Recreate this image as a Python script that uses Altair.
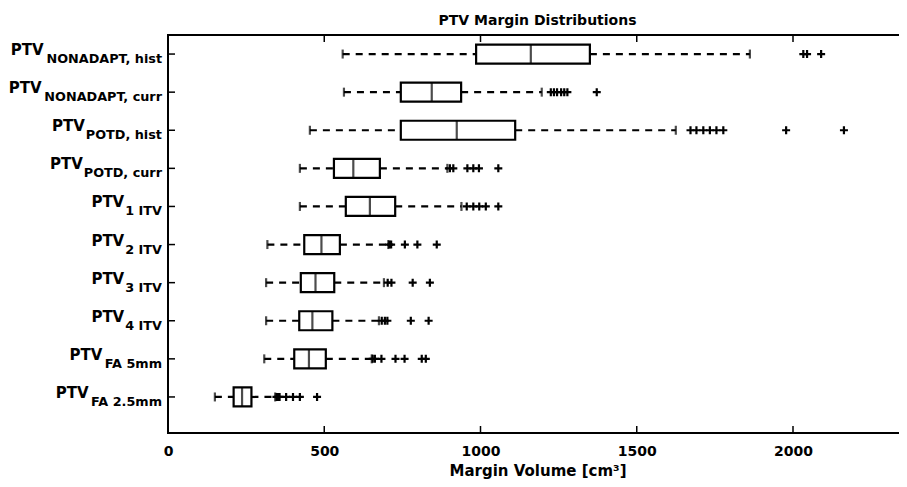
import altair as alt
import pandas as pd

# ---- data ----
categories = ["NONADAPT, hist", "NONADAPT, curr", "POTD, hist", "POTD, curr", "1 ITV",
              "2 ITV", "3 ITV", "4 ITV", "FA 5mm", "FA 2.5mm"]
whisker_low = [559, 563, 454, 422, 422, 318, 314, 314, 308, 150]
q1 = [986, 745, 745, 531, 569, 436, 425, 420, 404, 210]
median = [1161, 844, 924, 593, 646, 491, 472, 462, 451, 237]
q3 = [1350, 938, 1111, 678, 727, 550, 532, 526, 505, 267]
whisker_high = [1862, 1196, 1625, 894, 939, 705, 691, 675, 652, 343]
outliers = [
    [2033, 2045, 2090],
    [1225, 1235, 1245, 1258, 1268, 1278, 1372],
    [1672, 1691, 1713, 1734, 1755, 1777, 1978, 2163],
    [902, 913, 958, 977, 995, 1057],
    [956, 977, 996, 1017, 1057],
    [708, 714, 758, 798, 860],
    [703, 715, 783, 838],
    [684, 694, 702, 777, 834],
    [655, 662, 683, 728, 757, 812, 825],
    [347, 352, 357, 378, 400, 422, 477],
]
x_ticks = [0, 500, 1000, 1500, 2000]

FONT = "DejaVu Sans"
PTV_SIZE = 15
SUB_SIZE = 12.8
# DejaVu Sans Bold advance widths (em) for label layout
ADV = {" ": .348, ",": .381, ".": .381, "A": .774, "D": .830, "F": .683, "I": .372,
       "N": .837, "O": .850, "P": .732, "T": .682, "V": .774, "c": .592, "h": .712,
       "i": .343, "m": 1.042, "r": .489, "s": .595, "t": .478, "u": .712}
def text_w(s, size):
    return sum(ADV.get(ch, .696) for ch in s) * size

stats = pd.DataFrame({"cat": categories, "lo": whisker_low, "q1": q1, "med": median,
                      "q3": q3, "hi": whisker_high})
stats["ptv_x"] = [-6 - text_w(c, SUB_SIZE) - 1 for c in categories]
stats["ptv"] = "PTV"
out_df = pd.DataFrame([{"cat": c, "v": v} for c, vals in zip(categories, outliers) for v in vals])
tick_df = pd.DataFrame({"t": x_ticks[1:]})

W, H = 731, 398
LW = 2.2
xscale = alt.Scale(domain=[0, W / 0.3125], nice=False, zero=False)
xaxis = alt.Axis(values=x_ticks, ticks=False, domain=False, grid=False, labelFlush=False,
                 format="d",
                 labelFont=FONT, labelFontSize=14, labelFontWeight="bold", labelColor="black",
                 labelPadding=11, titleFont=FONT, titleFontSize=15, titleFontWeight="bold",
                 titleColor="black", titlePadding=5, titleX=369.5)
XT = "Margin Volume [cm³]"
yenc = alt.Y("cat:N", sort=categories, axis=None,
             scale=alt.Scale(paddingInner=0, paddingOuter=0.223, align=0))

base = alt.Chart(stats)
whisk_lo = base.mark_rule(color="black", strokeWidth=LW, strokeDash=[7, 6]).encode(
    x=alt.X("lo:Q", scale=xscale, axis=xaxis, title=XT), x2="q1:Q", y=yenc)
whisk_hi = base.mark_rule(color="black", strokeWidth=LW, strokeDash=[7, 6]).encode(
    x=alt.X("q3:Q", scale=xscale, axis=xaxis, title=XT), x2="hi:Q", y=yenc)
cap_lo = base.mark_tick(color="black", orient="vertical", size=9, thickness=LW).encode(
    x=alt.X("lo:Q", scale=xscale, axis=xaxis, title=XT), y=yenc)
cap_hi = base.mark_tick(color="black", orient="vertical", size=9, thickness=LW).encode(
    x=alt.X("hi:Q", scale=xscale, axis=xaxis, title=XT), y=yenc)
box = base.mark_bar(size=19, fill="white", stroke="black", strokeWidth=LW).encode(
    x=alt.X("q1:Q", scale=xscale, axis=xaxis, title=XT), x2="q3:Q", y=yenc)
med = base.mark_tick(color="black", orient="vertical", size=19, thickness=LW).encode(
    x=alt.X("med:Q", scale=xscale, axis=xaxis, title=XT), y=yenc)
outl = alt.Chart(out_df).mark_point(shape="M-1,0L1,0M0,-1L0,1", size=64, strokeWidth=LW,
                                     color="black", filled=False, opacity=1).encode(
    x=alt.X("v:Q", scale=xscale, axis=xaxis, title=XT), y=yenc)
ytick = base.mark_rule(color="black", strokeWidth=1.5).encode(
    x=alt.value(0), x2=alt.value(7), y=yenc)
xtick_b = alt.Chart(tick_df).mark_rule(color="black", strokeWidth=1.5).encode(
    x=alt.X("t:Q", scale=xscale, axis=xaxis, title=XT), y=alt.value(H), y2=alt.value(H - 7))
xtick_t = alt.Chart(tick_df).mark_rule(color="black", strokeWidth=1.5).encode(
    x=alt.X("t:Q", scale=xscale, axis=xaxis, title=XT), y=alt.value(0), y2=alt.value(7))
# frame: top, left, bottom (right edge is off-image in the reference)
frame_top = base.mark_rule(color="black", strokeWidth=2).encode(
    x=alt.value(-1), x2=alt.value(W), y=alt.value(0))
frame_left = base.mark_rule(color="black", strokeWidth=2).encode(
    x=alt.value(0), y=alt.value(-1), y2=alt.value(H + 1))
frame_bot = base.mark_rule(color="black", strokeWidth=2).encode(
    x=alt.value(-1), x2=alt.value(W), y=alt.value(H))
lab_sub = base.mark_text(align="right", baseline="alphabetic", dy=9, font=FONT,
                         fontSize=SUB_SIZE, fontWeight="bold", color="black").encode(
    x=alt.value(-6), y=yenc, text="cat:N")
lab_ptv = base.mark_text(align="right", baseline="alphabetic", dy=1, font=FONT,
                         fontSize=PTV_SIZE, fontWeight="bold", color="black").encode(
    x=alt.X("ptv_x:Q", scale=None), y=yenc, text="ptv:N")

chart = alt.layer(whisk_lo, whisk_hi, cap_lo, cap_hi, box, med, outl, ytick, xtick_b, xtick_t,
                  frame_top, frame_left, frame_bot, lab_sub, lab_ptv).properties(
    width=W, height=H,
    background="white",
    title=alt.TitleParams("PTV Margin Distributions", font=FONT, fontSize=14,
                          fontWeight="bold", color="black", offset=5, anchor="middle", dx=4),
    autosize=alt.AutoSizeParams(type="none"),
    padding={"left": 160, "top": 27, "right": 0, "bottom": 46},
).configure_view(stroke=None)

chart.save("out.html", embed_options={"renderer": "svg", "actions": False})
